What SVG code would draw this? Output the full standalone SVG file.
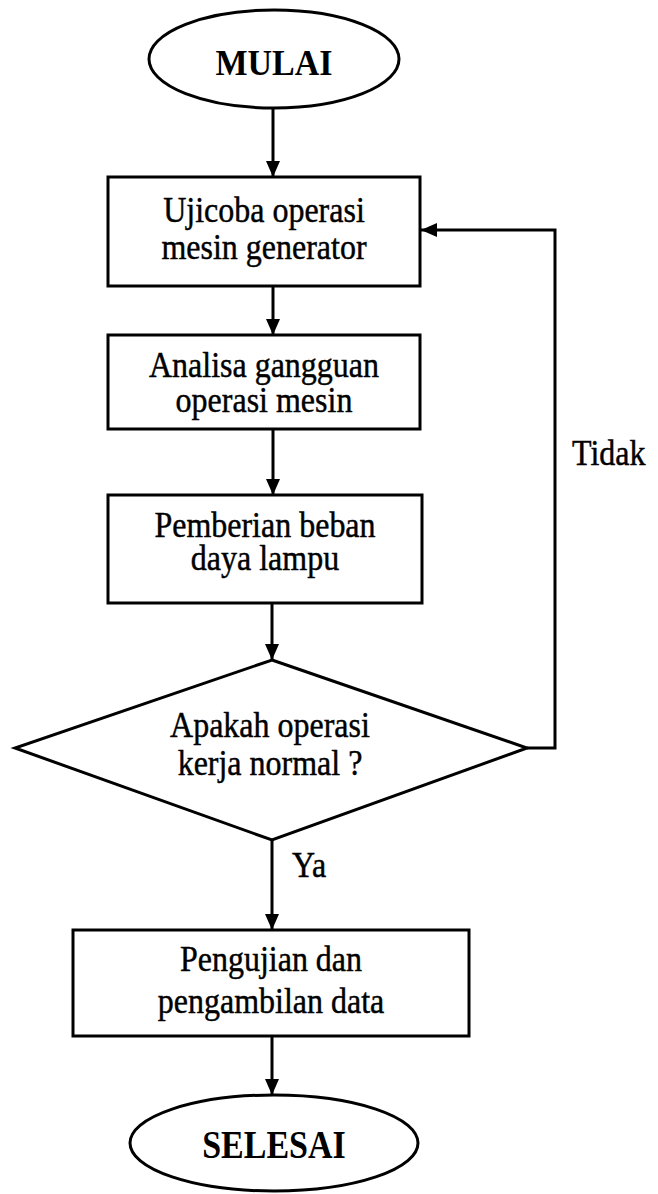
<svg xmlns="http://www.w3.org/2000/svg" width="658" height="1194" viewBox="0 0 658 1194">
<style>
.shape{fill:#fff;stroke:#000;stroke-width:3}
.conn{fill:none;stroke:#000;stroke-width:3}
.t{font-family:"Liberation Serif","Times New Roman",serif;font-size:32px;fill:#000;stroke:#000;stroke-width:0.4;text-anchor:middle}
.b{font-family:"Liberation Serif","Times New Roman",serif;font-size:34px;font-weight:bold;fill:#000;text-anchor:middle}
.l{font-family:"Liberation Serif","Times New Roman",serif;font-size:32px;fill:#000;stroke:#000;stroke-width:0.4}
</style>
<defs>
<marker id="arr" markerUnits="userSpaceOnUse" markerWidth="16" markerHeight="16" refX="16" refY="8" orient="auto">
<path d="M0,1 L16,8 L0,15 Z" fill="#000"/>
</marker>
</defs>
<rect width="658" height="1194" fill="#fff"/>
<g id="connectors">
<line class="conn" x1="273" y1="108" x2="273" y2="177" marker-end="url(#arr)"/>
<line class="conn" x1="273" y1="286" x2="273" y2="335" marker-end="url(#arr)"/>
<line class="conn" x1="273" y1="429" x2="273" y2="495" marker-end="url(#arr)"/>
<line class="conn" x1="272" y1="603" x2="272" y2="660" marker-end="url(#arr)"/>
<polyline class="conn" points="527,748 555,748 555,230 421,230" marker-end="url(#arr)"/>
<line class="conn" x1="272" y1="840" x2="272" y2="930" marker-end="url(#arr)"/>
<line class="conn" x1="272" y1="1036" x2="272" y2="1095" marker-end="url(#arr)"/>
<text class="l" x="572" y="0" transform="matrix(1,0,0,1.15,0,465)">Tidak</text>
<text class="l" x="292" y="0" transform="matrix(1,0,0,1.15,0,877)">Ya</text>
</g>
<g id="mulai">
<ellipse class="shape" cx="274" cy="59" rx="125" ry="49"/>
<text class="b" x="274" y="0" transform="matrix(1,0,0,1.08,0,75)">MULAI</text>
</g>
<g id="ujicoba">
<rect class="shape" x="108" y="177" width="312" height="109"/>
<text class="t" x="264" y="0" transform="matrix(1,0,0,1.15,0,222)">Ujicoba operasi</text>
<text class="t" x="264" y="0" transform="matrix(1,0,0,1.15,0,259)">mesin generator</text>
</g>
<g id="analisa">
<rect class="shape" x="108" y="335" width="312" height="94"/>
<text class="t" x="264" y="0" transform="matrix(1,0,0,1.15,0,377)">Analisa gangguan</text>
<text class="t" x="264" y="0" transform="matrix(1,0,0,1.15,0,412)">operasi mesin</text>
</g>
<g id="pemberian">
<rect class="shape" x="108" y="495" width="314" height="108"/>
<text class="t" x="265" y="0" transform="matrix(1,0,0,1.15,0,537)">Pemberian beban</text>
<text class="t" x="265" y="0" transform="matrix(1,0,0,1.15,0,570)">daya lampu</text>
</g>
<g id="keputusan">
<polygon class="shape" points="272,660 527,748 272,840 15,748"/>
<text class="t" x="270" y="0" transform="matrix(1,0,0,1.15,0,737)">Apakah operasi</text>
<text class="t" x="270" y="0" transform="matrix(1,0,0,1.15,0,775)">kerja normal ?</text>
</g>
<g id="pengujian">
<rect class="shape" x="73" y="930" width="396" height="106"/>
<text class="t" x="271" y="0" transform="matrix(1,0,0,1.15,0,971)">Pengujian dan</text>
<text class="t" x="271" y="0" transform="matrix(1,0,0,1.15,0,1013)">pengambilan data</text>
</g>
<g id="selesai">
<ellipse class="shape" cx="274" cy="1143" rx="144" ry="48"/>
<text class="b" x="274" y="0" transform="matrix(1,0,0,1.15,0,1158)">SELESAI</text>
</g>
</svg>
